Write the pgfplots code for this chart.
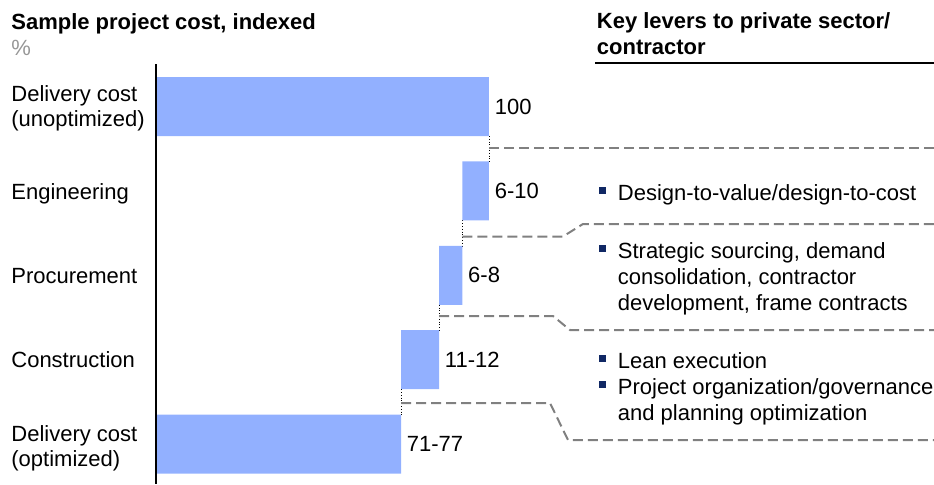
\documentclass[border=0pt]{standalone}
\usepackage{pgfplots}
\pgfplotsset{compat=1.18}
\usepackage{fontspec}
\setmainfont{Liberation Sans}
\definecolor{barblue}{RGB}{146,176,255}
\definecolor{navy}{RGB}{16,40,100}
\definecolor{dashgray}{RGB}{128,128,128}
\definecolor{pctgray}{RGB}{150,150,150}

\begin{document}
\begin{tikzpicture}[every node/.style={inner sep=0pt, font=\fontsize{11}{13}\selectfont}]
% bars in data units: 0 at px 157, 100 at px 489
\begin{axis}[
    name=ax,
    scale only axis, width=467pt, height=242pt,
    hide axis, clip=false,
    xmin=-47.29, xmax=234.04,
    ymin=-1.262, ymax=4.473, y dir=reverse,
    xbar stacked, bar width=29.5pt,
]
    % invisible offsets
    \addplot[draw=none, fill=none, forget plot] coordinates {(0,0) (92,1) (85,2) (73.5,3) (0,4)};
    % visible bars
    \addplot[fill=barblue, draw=none] coordinates {(100,0) (8,1) (7,2) (11.5,3) (73.5,4)};

    \node[anchor=west, xshift=2.7pt] at (axis cs:100,0) {100};
    \node[anchor=west, xshift=2.7pt] at (axis cs:100,1) {6-10};
    \node[anchor=west, xshift=2.7pt] at (axis cs:92,2) {6-8};
    \node[anchor=west, xshift=2.7pt] at (axis cs:85,3) {11-12};
    \node[anchor=west, xshift=2.7pt] at (axis cs:73.5,4) {71-77};

    % thin connectors between bars
    \draw[densely dotted, line width=0.4pt] (axis cs:100,0.35) -- (axis cs:100,0.65);
    \draw[densely dotted, line width=0.4pt] (axis cs:92,1.35) -- (axis cs:92,1.65);
    \draw[densely dotted, line width=0.4pt] (axis cs:85,2.35) -- (axis cs:85,2.65);
    \draw[densely dotted, line width=0.4pt] (axis cs:73.5,3.35) -- (axis cs:73.5,3.65);
\end{axis}

% annotations in pixel units of the reference
\begin{scope}[shift={(ax.north west)}, x=0.5pt, y=-0.5pt]
    \draw[line width=1pt] (156,64) -- (156,484);

    \node[anchor=base west, font=\fontsize{11}{13}\selectfont\bfseries] at (11,29) {Sample project cost, indexed};
    \node[anchor=base west, text=pctgray] at (11,55) {\%};

    \node[anchor=base west, font=\fontsize{11}{13}\selectfont\bfseries] at (596.5,28) {Key levers to private sector/};
    \node[anchor=base west, font=\fontsize{11}{13}\selectfont\bfseries] at (596.5,54.5) {contractor};
    \draw[line width=0.75pt] (595,63) -- (934,63);

    \node[anchor=base west] at (11,101.7) {Delivery cost};
    \node[anchor=base west] at (11,126.7) {(unoptimized)};
    \node[anchor=base west] at (11,199.5) {Engineering};
    \node[anchor=base west] at (11,283.5) {Procurement};
    \node[anchor=base west] at (11,367.5) {Construction};
    \node[anchor=base west] at (11,441.7) {Delivery cost};
    \node[anchor=base west] at (11,466.7) {(optimized)};

    % dashed separators
    \begin{scope}[dashgray, line width=1pt, dash pattern=on 5pt off 2.5pt]
        \draw (489,148) -- (934,148);
        \draw (462.4,236.5) -- (563,236.5) -- (583,224) -- (934,224);
        \draw (439.2,316) -- (553,316) -- (570,330) -- (934,330);
        \draw (401,403) -- (550,403) -- (568,440) -- (934,440);
    \end{scope}

    % levers
    \fill[navy] (599.3,187) rectangle (605.8,193.5);
    \node[anchor=base west] at (617.5,200) {Design-to-value/design-to-cost};
    \fill[navy] (599.3,245.3) rectangle (605.8,251.8);
    \node[anchor=base west] at (617.5,258.3) {Strategic sourcing, demand};
    \node[anchor=base west] at (617.5,284.3) {consolidation, contractor};
    \node[anchor=base west] at (617.5,310) {development, frame contracts};
    \fill[navy] (599.3,355) rectangle (605.8,361.5);
    \node[anchor=base west] at (617.5,368) {Lean execution};
    \fill[navy] (599.3,381) rectangle (605.8,387.5);
    \node[anchor=base west] at (617.5,394) {Project organization/governance};
    \node[anchor=base west] at (617.5,420) {and planning optimization};

    \pgfresetboundingbox
    \path[use as bounding box] (0,0) rectangle (934,484);
\end{scope}
\end{tikzpicture}
\end{document}
